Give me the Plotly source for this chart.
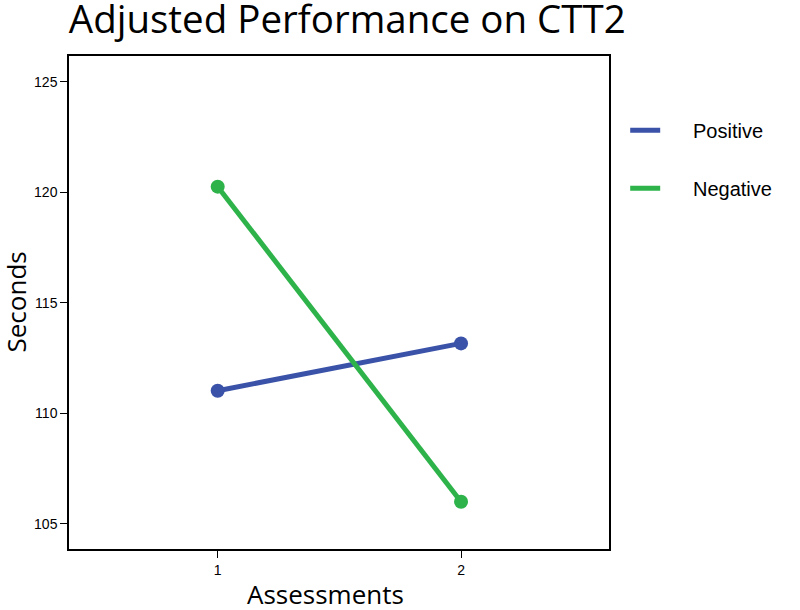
import plotly.graph_objects as go

assessments = [1, 2]
positive = [111.02, 113.16]
negative = [120.25, 106.0]
y_ticks = [105, 110, 115, 120, 125]

blue = "#3a52a8"
green = "#2db34a"
pad = "\u00a0" * 5

fig = go.Figure()
fig.add_trace(go.Scatter(x=assessments, y=positive, name="Positive", mode="lines+markers",
                         line=dict(color=blue, width=5), marker=dict(size=14, color=blue),
                         showlegend=False))
fig.add_trace(go.Scatter(x=assessments, y=negative, name="Negative", mode="lines+markers",
                         line=dict(color=green, width=5), marker=dict(size=14, color=green),
                         showlegend=False))
# legend entries (lines only, as in the reference)
fig.add_trace(go.Scatter(x=[None], y=[None], name=pad + "Positive", mode="lines",
                         line=dict(color=blue, width=5), legendgroup="a"))
fig.add_trace(go.Scatter(x=[None], y=[None], name=pad + "Negative", mode="lines",
                         line=dict(color=green, width=5), legendgroup="b"))

fig.update_layout(
    width=800, height=610,
    margin=dict(l=69, r=191, t=56, b=61),
    paper_bgcolor="white", plot_bgcolor="white",
    title=dict(text="Adjusted Performance on CTT2", x=0.086, xanchor="left", y=0.99, yanchor="top",
               font=dict(family="Open Sans", size=38.5, color="black")),
    showlegend=True,
    legend=dict(x=1.03, y=0.889, xanchor="left", yanchor="top",
                font=dict(family="Liberation Sans", size=20, color="black"),
                traceorder="grouped", tracegroupgap=29, itemwidth=30),
    xaxis=dict(range=[0.389, 2.608], tickvals=assessments, ticktext=["1", "2"],
               showline=True, mirror=True, linecolor="black", linewidth=1.5,
               ticks="outside", ticklen=7, tickcolor="black", showgrid=False, zeroline=False,
               automargin=False,
               tickfont=dict(family="Liberation Sans", size=14, color="black")),
    yaxis=dict(range=[103.86, 126.16], tickvals=y_ticks,
               showline=True, mirror=True, linecolor="black", linewidth=1.5,
               ticks="outside", ticklen=7, tickcolor="black", showgrid=False, zeroline=False,
               automargin=False,
               tickfont=dict(family="Liberation Sans", size=14, color="black")),
)
fig.add_annotation(text="Seconds", xref="paper", yref="paper", x=(15 - 69) / 540, y=0.5,
                   xanchor="center", yanchor="middle", textangle=-90, showarrow=False,
                   font=dict(family="Open Sans", size=26, color="black"))
fig.add_annotation(text="Assessments", xref="paper", yref="paper", x=(325 - 69) / 540, y=-0.051,
                   xanchor="center", yanchor="top", showarrow=False,
                   font=dict(family="Open Sans", size=26, color="black"))
fig.write_html("out.html", config={"displayModeBar": False},
               post_script="document.body.style.margin='0px';")
